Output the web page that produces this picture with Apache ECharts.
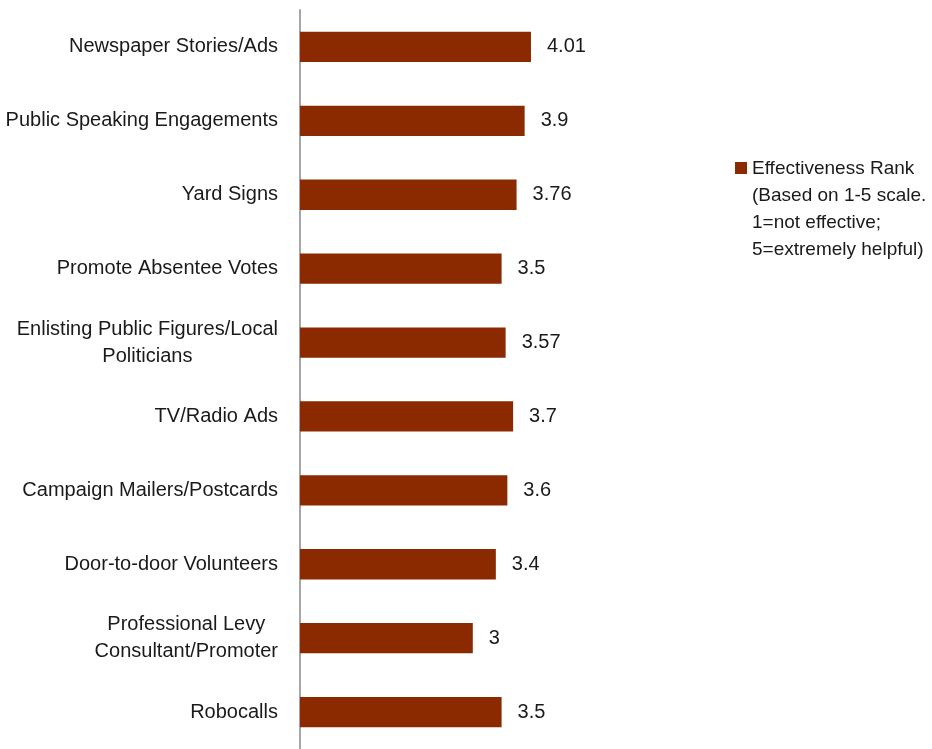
<!DOCTYPE html>
<html><head><meta charset="utf-8">
<script src="https://cdn.jsdelivr.net/npm/echarts@6/dist/echarts.min.js"></script>
<style>html,body{margin:0;padding:0;background:#fff}#c{width:932px;height:749px}</style>
</head><body><div id="c"></div>
<script>
const categories = ["Newspaper Stories/Ads","Public Speaking Engagements","Yard Signs","Promote Absentee Votes","Enlisting Public Figures/Local\nPoliticians","TV/Radio Ads","Campaign Mailers/Postcards","Door-to-door Volunteers","Professional Levy\nConsultant/Promoter","Robocalls"];
const values = [4.01,3.9,3.76,3.5,3.57,3.7,3.6,3.4,3,3.5];
const seriesName = "Effectiveness Rank\n(Based on 1-5 scale.\n1=not effective;\n5=extremely helpful)";
const FONT = "'Liberation Sans Narrow','Arial Narrow','Liberation Sans',sans-serif";
const chart = echarts.init(document.getElementById('c'));
chart.setOption({
  animation:false,
  textStyle:{fontFamily:FONT},
  legend:{left:735,top:155,padding:0,orient:'vertical',itemWidth:12,itemHeight:108,
    textStyle:{fontFamily:FONT,fontSize:19,color:'#1a1a1a',lineHeight:27},
    data:[{name:seriesName,icon:'path://M0,7H12V19H0Z M0,0H0.01V0.01H0Z M0,108H0.01V108.01H0Z'}]},
  grid:{left:300,top:10,bottom:0,width:345.6,containLabel:false},
  xAxis:{type:'value',min:0,max:6,show:false},
  yAxis:{type:'category',inverse:true,data:categories,
    axisLine:{show:true,lineStyle:{color:'#a6a6a6',width:2}},
    axisTick:{show:false},
    axisLabel:{margin:22,fontSize:20,color:'#1a1a1a',fontFamily:FONT,
      formatter:function(v){return v.split('\n').map(s=>'{a|'+s+'}').join('\n');},
      rich:{a:{fontSize:20,fontFamily:FONT,color:'#1a1a1a',align:'center',lineHeight:27}}}},
  series:[{type:'bar',name:seriesName,data:values,barCategoryGap:'59%',
    itemStyle:{color:'#8b2a00'},
    label:{show:true,position:'right',distance:16,fontSize:20,color:'#1a1a1a',fontFamily:FONT}}]
});
</script></body></html>
